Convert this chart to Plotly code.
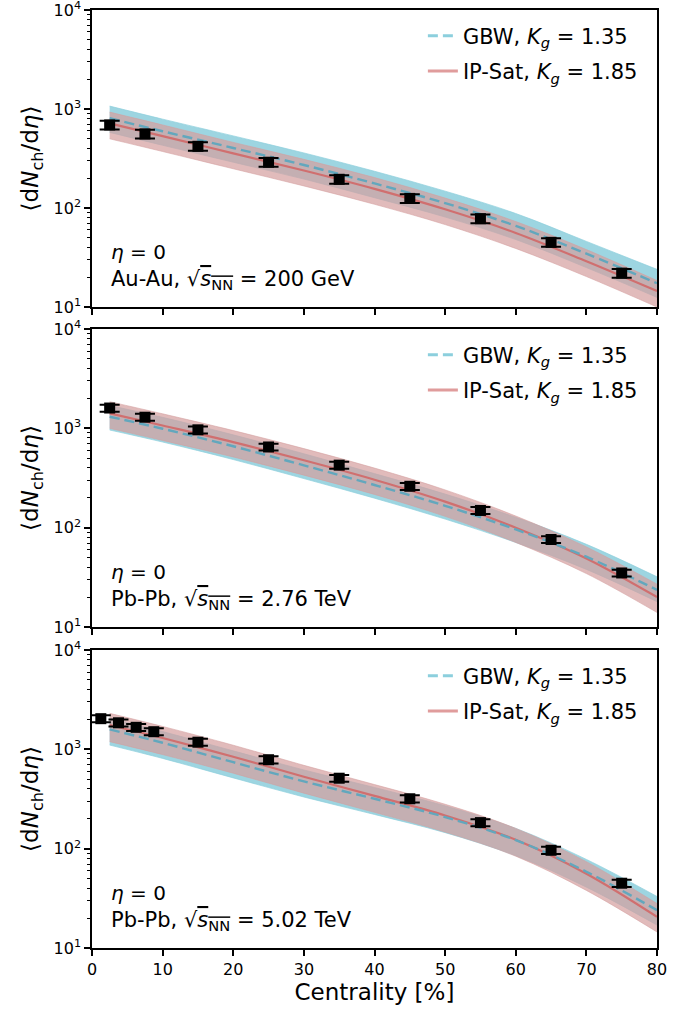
import plotly.graph_objects as go

# ---------------- data ----------------
cent_grid = [2.5, 10, 20, 30, 40, 50, 60, 70, 80]

# Au-Au 200 GeV
auau_gbw_mid = [806, 596, 404, 272, 177, 112, 66, 34.6, 17.4]
auau_gbw_hi = [1070, 790, 535, 360, 235, 148, 88, 46, 24]
auau_gbw_lo = [580, 430, 290, 196, 127, 81, 48, 25, 12.5]
auau_ips_mid = [716, 532, 356, 239, 156, 97, 56, 29, 14.5]
auau_ips_hi = [930, 690, 460, 310, 203, 126, 73, 38, 18.5]
auau_ips_lo = [500, 372, 249, 167, 109, 68, 39, 20.3, 10]
auau_x = [2.5, 7.5, 15, 25, 35, 45, 55, 65, 75]
auau_y = [690, 560, 420, 290, 195, 125, 78, 45, 22]
auau_err = [69, 56, 42, 29, 19.5, 12.5, 7.8, 4.5, 2.2]

# Pb-Pb 2.76 TeV
pb276_gbw_mid = [1309, 991, 660, 424, 269, 166, 96, 51, 23.6]
pb276_gbw_hi = [1700, 1290, 860, 555, 350, 218, 127, 68, 32]
pb276_gbw_lo = [962, 728, 485, 312, 198, 122, 71, 38, 18]
pb276_ips_mid = [1416, 1067, 726, 477, 304, 183, 100, 49, 20]
pb276_ips_hi = [1854, 1400, 950, 625, 398, 240, 131, 64, 27]
pb276_ips_lo = [1000, 755, 515, 338, 216, 130, 71, 34.5, 14]
pb276_x = [2.5, 7.5, 15, 25, 35, 45, 55, 65, 75]
pb276_y = [1601, 1294, 966, 649, 426, 261, 149, 76, 35]
pb276_err = [130, 105, 78, 52, 34, 21, 12, 6.1, 2.8]

# Pb-Pb 5.02 TeV
pb502_gbw_mid = [1589, 1164, 742, 476, 318, 208, 122, 58.6, 24]
pb502_gbw_hi = [2065, 1510, 965, 620, 413, 270, 160, 78, 33]
pb502_gbw_lo = [1104, 810, 516, 331, 221, 145, 85, 41, 17]
pb502_ips_mid = [1758, 1300, 843, 530, 340, 216, 123, 56, 20.6]
pb502_ips_hi = [2303, 1700, 1100, 690, 442, 280, 160, 74, 28]
pb502_ips_lo = [1195, 885, 575, 362, 232, 147, 84, 38, 14.5]
pb502_x = [1.25, 3.75, 6.25, 8.75, 15, 25, 35, 45, 55, 65, 75]
pb502_y = [2035, 1850, 1666, 1505, 1180, 786, 512, 318, 183, 96.3, 44.9]
pb502_err = [165, 150, 135, 122, 95, 64, 41, 26, 15, 8.0, 3.8]

panel_labels = [
    "Au-Au, √<span style='text-decoration:overline'><i>s</i><sub>NN</sub></span> = 200 GeV",
    "Pb-Pb, √<span style='text-decoration:overline'><i>s</i><sub>NN</sub></span> = 2.76 TeV",
    "Pb-Pb, √<span style='text-decoration:overline'><i>s</i><sub>NN</sub></span> = 5.02 TeV",
]
legend_gbw = "GBW, <i>K</i><sub><i>g</i></sub> = 1.35"
legend_ips = "IP-Sat, <i>K</i><sub><i>g</i></sub> = 1.85"

panels = [
    (auau_gbw_lo, auau_gbw_mid, auau_gbw_hi, auau_ips_lo, auau_ips_mid, auau_ips_hi, auau_x, auau_y, auau_err),
    (pb276_gbw_lo, pb276_gbw_mid, pb276_gbw_hi, pb276_ips_lo, pb276_ips_mid, pb276_ips_hi, pb276_x, pb276_y, pb276_err),
    (pb502_gbw_lo, pb502_gbw_mid, pb502_gbw_hi, pb502_ips_lo, pb502_ips_mid, pb502_ips_hi, pb502_x, pb502_y, pb502_err),
]

# ---------------- styling ----------------
W, H = 696, 1014
ML, MR, MT, MB = 92, 39, 10, 66
ph = H - MT - MB
panel_px = [(10, 307), (329, 627), (650, 948)]
domains = [[(948 - b) / ph, (948 - t) / ph] for (t, b) in panel_px]

GBW_BAND = "rgba(140,206,220,0.85)"
IPS_BAND = "rgba(212,158,158,0.70)"
GBW_LINE = "#62a7bd"
IPS_LINE = "#d06f6f"
GBW_LEG = "#8ccfdd"
IPS_LEG = "#e09c9c"
FONT = "DejaVu Sans"

fig = go.Figure()
legends = ["legend", "legend2", "legend3"]

for i, (glo, gmid, ghi, ilo, imid, ihi, dx, dy, de) in enumerate(panels):
    xa = "x" if i == 0 else f"x{i+1}"
    ya = "y" if i == 0 else f"y{i+1}"
    common = dict(xaxis=xa, yaxis=ya, showlegend=False, hoverinfo="skip")
    fig.add_trace(go.Scatter(x=cent_grid, y=glo, mode="lines", line=dict(width=0.8, shape="spline", color=GBW_BAND), **common))
    fig.add_trace(go.Scatter(x=cent_grid, y=ghi, mode="lines", line=dict(width=0.8, shape="spline", color=GBW_BAND),
                             fill="tonexty", fillcolor=GBW_BAND, **common))
    fig.add_trace(go.Scatter(x=cent_grid, y=ilo, mode="lines", line=dict(width=0.8, shape="spline", color=IPS_BAND), **common))
    fig.add_trace(go.Scatter(x=cent_grid, y=ihi, mode="lines", line=dict(width=0.8, shape="spline", color=IPS_BAND),
                             fill="tonexty", fillcolor=IPS_BAND, **common))
    fig.add_trace(go.Scatter(x=cent_grid, y=imid, mode="lines", line=dict(width=2.2, shape="spline", color=IPS_LINE), **common))
    fig.add_trace(go.Scatter(x=cent_grid, y=gmid, mode="lines", line=dict(width=2.4, shape="spline", color=GBW_LINE, dash="10px,5px"), **common))
    fig.add_trace(go.Scatter(x=dx, y=dy, mode="markers", xaxis=xa, yaxis=ya, showlegend=False, hoverinfo="skip",
                             marker=dict(symbol="square", size=11, color="black"),
                             error_y=dict(type="data", array=de, color="black", thickness=2, width=10)))
    fig.add_trace(go.Scatter(x=[None], y=[None], mode="lines", xaxis=xa, yaxis=ya, name=legend_gbw,
                             legend=legends[i], legendgroup=f"g{i}",
                             line=dict(width=3, color=GBW_LEG, dash="10px,5px")))
    fig.add_trace(go.Scatter(x=[None], y=[None], mode="lines", xaxis=xa, yaxis=ya, name=legend_ips,
                             legend=legends[i], legendgroup=f"i{i}",
                             line=dict(width=3, color=IPS_LEG)))

minor_vals = [m * 10 ** e for e in (1, 2, 3) for m in range(2, 10)]

layout = dict(
    width=W, height=H,
    margin=dict(l=ML, r=MR, t=MT, b=MB, autoexpand=False),
    paper_bgcolor="white", plot_bgcolor="white",
    font=dict(family=FONT, size=16, color="black"),
)

for i in range(3):
    xk = "xaxis" if i == 0 else f"xaxis{i+1}"
    yk = "yaxis" if i == 0 else f"yaxis{i+1}"
    ya = "y" if i == 0 else f"y{i+1}"
    xa = "x" if i == 0 else f"x{i+1}"
    layout[xk] = dict(
        domain=[0, 1], anchor=ya, range=[0, 80], tickmode="array",
        tickvals=[0, 10, 20, 30, 40, 50, 60, 70, 80],
        showticklabels=(i == 2), ticks="outside", ticklen=6, tickwidth=1.5, tickcolor="black",
        showline=True, linecolor="black", linewidth=1.6, mirror=True, showgrid=False, zeroline=False,
        tickfont=dict(size=16), automargin=False, ticklabeloverflow="allow",
    )
    if i == 2:
        layout[xk]["title"] = dict(text="Centrality [%]", font=dict(size=23), standoff=6)
    else:
        layout[xk]["matches"] = "x3"
    layout[yk] = dict(
        domain=domains[i], anchor=xa, type="log", range=[1, 4],
        tickmode="array", tickvals=[10, 100, 1000, 10000],
        ticktext=["10<sup>1</sup>", "10<sup>2</sup>", "10<sup>3</sup>", "10<sup>4</sup>"],
        ticks="outside", ticklen=6, tickwidth=1.5, tickcolor="black",
        minor=dict(tickmode="array", tickvals=minor_vals, ticks="outside", ticklen=3.5, tickwidth=1, tickcolor="black", showgrid=False),
        showline=True, linecolor="black", linewidth=1.6, mirror=True, showgrid=False, zeroline=False,
        tickfont=dict(size=16), automargin=False, ticklabeloverflow="allow",
        title=dict(text="⟨d<i>N</i><sub>ch</sub>/d<i>η</i>⟩", font=dict(size=23), standoff=8),
    )
    layout[legends[i]] = dict(
        x=0.975, xanchor="right", y=domains[i][1] - 0.006, yanchor="top",
        bgcolor="rgba(0,0,0,0)", borderwidth=0, font=dict(size=21),
        tracegroupgap=5, traceorder="grouped",
    )

fig.update_layout(**layout)

annotations = []
for i in range(3):
    xr = "x domain" if i == 0 else f"x{i+1} domain"
    yr = "y domain" if i == 0 else f"y{i+1} domain"
    annotations.append(dict(text="<i>η</i> = 0", x=0.03, y=0.185, xref=xr, yref=yr, xanchor="left", yanchor="middle",
                            showarrow=False, font=dict(size=20)))
    annotations.append(dict(text=panel_labels[i], x=0.03, y=0.09, xref=xr, yref=yr, xanchor="left", yanchor="middle",
                            showarrow=False, font=dict(size=21)))
fig.update_layout(annotations=annotations)

fig.write_html("out.html")
